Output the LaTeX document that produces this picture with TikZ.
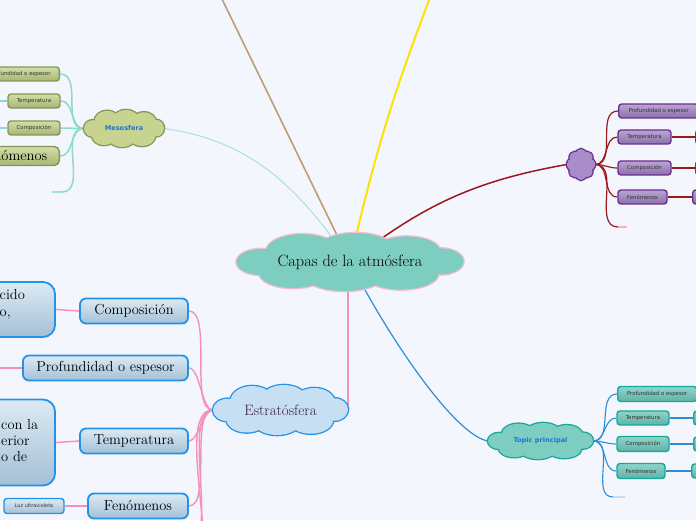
\documentclass[tikz,border=0pt]{standalone}
\usepackage{fontspec}
\newfontfamily\dejavu{DejaVu Sans}
\usetikzlibrary{backgrounds}
\definecolor{fondo}{HTML}{F3F6FD}
\definecolor{centro}{HTML}{7ECDC1}
\definecolor{centroborde}{HTML}{F6BDD0}
\definecolor{marron}{HTML}{BF9D74}
\definecolor{amarillo}{HTML}{FFE203}
\definecolor{mesolinea}{HTML}{A3DEDA}
\definecolor{rojo}{HTML}{9A1A1A}
\definecolor{rosa}{HTML}{F490B9}
\definecolor{azul}{HTML}{2F8CD8}
\definecolor{mesofondo}{HTML}{C6D490}
\definecolor{mesoborde}{HTML}{829757}
\definecolor{mesorama}{HTML}{8ED9CE}
\definecolor{verdearriba}{HTML}{D3DEA6}
\definecolor{verdeabajo}{HTML}{A7B675}
\definecolor{morado}{HTML}{A98DC9}
\definecolor{moradoborde}{HTML}{6D2C94}
\definecolor{moradoarriba}{HTML}{B9A5D2}
\definecolor{moradoabajo}{HTML}{8B70AC}
\definecolor{topicborde}{HTML}{13A89C}
\definecolor{tealarriba}{HTML}{8FD5CA}
\definecolor{tealabajo}{HTML}{5FB2A6}
\definecolor{estfondo}{HTML}{C7DFF2}
\definecolor{estborde}{HTML}{2293E6}
\definecolor{esttexto}{HTML}{3D1A4E}
\definecolor{estarriba}{HTML}{DCEAF4}
\definecolor{estabajo}{HTML}{A4C0D6}
\definecolor{titulo}{HTML}{1F73D8}
% puffs of a cloud, in units of its half width and half height
\newcommand\nubelista{-0.78/0/0.22/0.45, -0.42/0.36/0.32/0.6, 0.05/0.42/0.34/0.58, 0.5/0.33/0.3/0.55, 0.8/0.02/0.2/0.45, 0.45/-0.4/0.33/0.55, -0.05/-0.45/0.35/0.55, -0.5/-0.38/0.3/0.52, 0/0/0.8/0.6}
\newcommand\florlista{0/0/0.55/0.55, 0.62/0/0.38/0.38, 0.44/0.44/0.38/0.38, 0/0.62/0.38/0.38, -0.44/0.44/0.38/0.38, -0.62/0/0.38/0.38, -0.44/-0.44/0.38/0.38, 0/-0.62/0.38/0.38, 0.44/-0.44/0.38/0.38}
\tikzset{
  pics/nube/.style 2 args={code={
    \foreach \px/\py/\rx/\ry in \nubelista
      \draw[#2, line width=2.6pt] (\px,\py) ellipse [x radius=\rx, y radius=\ry];
    \foreach \px/\py/\rx/\ry in \nubelista
      \fill[#1] (\px,\py) ellipse [x radius=\rx, y radius=\ry];
  }},
  pics/flor/.style 2 args={code={
    \foreach \px/\py/\rx/\ry in \florlista
      \draw[#2, line width=2.6pt] (\px,\py) ellipse [x radius=\rx, y radius=\ry];
    \foreach \px/\py/\rx/\ry in \florlista
      \fill[#1] (\px,\py) ellipse [x radius=\rx, y radius=\ry];
  }}
}

\begin{document}
\begin{tikzpicture}[x=1pt,y=1pt,
  serif/.style={font=\fontsize{14.5}{17}\selectfont, text=black},
  tiny/.style={font=\dejavu\fontsize{5.4}{6}\selectfont, text=black!80},
  titulito/.style={font=\dejavu\bfseries\fontsize{6.6}{8}\selectfont, text=titulo},
  sbox/.style={serif, rounded corners=6pt, draw=estborde, line width=1.8pt, top color=estarriba, bottom color=estabajo, minimum height=25pt, inner sep=0pt},
  gbox/.style={tiny, rounded corners=3pt, draw=mesoborde, line width=1.4pt, top color=verdearriba, bottom color=verdeabajo, minimum height=14pt, inner sep=0pt},
  pbox/.style={tiny, rounded corners=3pt, draw=moradoborde, line width=1.4pt, top color=moradoarriba, bottom color=moradoabajo, minimum height=14pt, inner sep=0pt},
  tbox/.style={tiny, rounded corners=3pt, draw=topicborde, line width=1.4pt, top color=tealarriba, bottom color=tealabajo, minimum height=14pt, inner sep=0pt},
  mrama/.style={mesorama, line width=1.5pt},
  prama/.style={rojo, line width=1.2pt},
  trama/.style={azul, line width=1.1pt},
  erama/.style={rosa, line width=1.4pt}]
\useasboundingbox (0,0) rectangle (696,520);

% clouds (text only, the puffs are drawn below)
\node[minimum width=227, minimum height=58, inner sep=0pt, font=\fontsize{16.3}{19}\selectfont] (cen) at (350,258) {Capas de la atmósfera};
\node[minimum width=80, minimum height=37, inner sep=0pt, titulito] (meso) at (124,391.5) {Mesosfera};
\node[minimum width=28, minimum height=31, inner sep=0pt] (mor) at (581,355.5) {};
\node[minimum width=105, minimum height=36, inner sep=0pt, titulito] (topic) at (540.5,79) {Topic principal};
\node[minimum width=135, minimum height=50, inner sep=0pt, font=\fontsize{15}{18}\selectfont, text=esttexto] (estr) at (280.5,110) {Estratósfera};

% Mesosfera
\node[gbox, anchor=east, minimum width=78] (mprof) at (60,446) {Profundidad o espesor};
\node[gbox, minimum width=52] (mtemp) at (34,419) {Temperatura};
\node[gbox, minimum width=52] (mcomp) at (34,392) {Composición};
\node[gbox, serif, anchor=east, minimum height=19, inner xsep=12pt, rounded corners=5pt] (mfen) at (60,364) {Fenómenos};
\coordinate (mstub) at (62,328);
\coordinate (mstubend) at (52,328);
\coordinate (mtempizq) at (-5,419);
\coordinate (mcompizq) at (-5,392);

% purple branch
\node[pbox, anchor=west, minimum width=80] (pprof) at (618,409) {Profundidad o espesor};
\node[pbox, minimum width=53] (ptemp) at (644.5,383) {Temperatura};
\node[pbox, minimum width=53] (pcomp) at (644.5,352) {Composición};
\node[pbox, minimum width=49] (pfen) at (642.5,323) {Fenómenos};
\node[pbox, anchor=west, minimum width=30] (ptemp2) at (695,383) {};
\node[pbox, anchor=west, minimum width=30] (pcomp2) at (695,352) {};
\node[pbox, anchor=west, minimum width=30] (pfen2) at (692,323) {};
\coordinate (pstub) at (618,293);
\coordinate (pstubend) at (627,293);

% Topic principal
\node[tbox, anchor=west, minimum width=79, minimum height=15] (tprof) at (617,126) {Profundidad o espesor};
\node[tbox, minimum width=52] (ttemp) at (643,102) {Temperatura};
\node[tbox, minimum width=52, minimum height=15] (tcomp) at (643,76) {Composición};
\node[tbox, minimum width=48, minimum height=15] (tfen) at (641,49) {Fenómenos};
\node[tbox, anchor=west, minimum width=30] (ttemp2) at (693,102) {};
\node[tbox, anchor=west, minimum width=30] (tcomp2) at (693,76) {};
\node[tbox, anchor=west, minimum width=30] (tfen2) at (691,49) {};
\coordinate (tstub) at (613,23);
\coordinate (tstubend) at (625,23);

% Estratosfera
\node[sbox, minimum width=108] (scomp) at (134,209) {Composición};
\node[sbox, minimum width=165] (sprof) at (105.5,152) {Profundidad o espesor};
\node[sbox, minimum width=108] (stemp) at (134,79) {Temperatura};
\node[sbox, minimum width=100] (sfen) at (138,14) {Fenómenos};
\node[sbox, tiny, font=\dejavu\fontsize{5}{6}\selectfont, minimum width=60, minimum height=15, rounded corners=3pt, line width=1.4pt] (sluz) at (34,14) {Luz ultravioleta};
\node[sbox, minimum width=80, minimum height=55, rounded corners=12pt] (sbig1) at (15,210.5) {};
\node[sbox, minimum width=80, minimum height=86, rounded corners=12pt] (sbig2) at (15,77.5) {};
\node[serif, align=left, anchor=north west, inner sep=0pt] (sbig1txt) at (-0.5,231) {cido\\o,};
\node[serif, font=\fontsize{14.5}{16}\selectfont, align=left, anchor=north west, inner sep=0pt] (sbig2txt) at (1,101) {con la\\erior\\o de};
\coordinate (sprofizq) at (-5,152);
\coordinate (sdn1) at (188,-25);
\coordinate (sdn2) at (188,-70);

\coordinate (arriba1) at (220,525);
\coordinate (arriba2) at (431,525);

\begin{pgfonlayer}{background}
\fill[fondo] (0,0) rectangle (696,520);
% main branches
\draw[marron, line width=1.6pt] (cen.center) -- (arriba1);
\draw[amarillo, line width=2pt] (cen.center) to[bend left=4] (arriba2);
\draw[mesolinea, line width=0.9pt] (cen.center) to[out=125,in=-8] (meso.east);
\draw[rojo, line width=1.5pt] (cen.center) to[out=38,in=190] (mor.west);
\draw[rosa, line width=1.5pt] (cen.center) -| (estr.east);
\draw[azul, line width=1.2pt] (cen.center) .. controls (390,180) and (455,85) .. (topic.west);
% Mesosfera
\foreach \b in {mprof,mtemp,mcomp,mfen}
  \draw[mrama] (meso.west) to[out=180,in=0] (\b.east);
\draw[mrama] (meso.west) to[out=180,in=0] (mstub);
\draw[mesolinea, line width=1.2pt] (mstub) -- (mstubend);
\draw[mrama] (mtemp.west) -- (mtempizq);
\draw[mrama] (mcomp.west) -- (mcompizq);
% purple
\foreach \b in {pprof,ptemp,pcomp,pfen}
  \draw[prama] (mor.east) to[out=0,in=180] (\b.west);
\draw[prama] (mor.east) to[out=0,in=180] (pstub);
\draw[rosa!70, line width=1.2pt] (pstub) -- (pstubend);
\draw[prama] (ptemp.east) -- (ptemp2.west);
\draw[prama] (pcomp.east) -- (pcomp2.west);
\draw[prama] (pfen.east) -- (pfen2.west);
% Topic principal
\foreach \b in {tprof,ttemp,tcomp,tfen}
  \draw[trama] (topic.east) to[out=0,in=180] (\b.west);
\draw[trama] (topic.east) to[out=0,in=180] (tstub);
\draw[azul!30, line width=1.1pt] (tstub) -- (tstubend);
\draw[trama] (ttemp.east) -- (ttemp2.west);
\draw[trama] (tcomp.east) -- (tcomp2.west);
\draw[trama] (tfen.east) -- (tfen2.west);
% Estratosfera
\foreach \b in {scomp,sprof,stemp,sfen}
  \draw[erama] (estr.west) to[out=180,in=0,looseness=0.6] (\b.east);
\draw[erama] (estr.west) to[out=180,in=0,looseness=0.6] (sdn1);
\draw[erama] (estr.west) to[out=180,in=0,looseness=0.6] (sdn2);
\draw[erama] (scomp.west) -- (sbig1.east);
\draw[erama] (sprof.west) -- (sprofizq);
\draw[erama] (stemp.west) -- (sbig2.east);
\draw[erama] (sfen.west) -- (sluz.east);
% cloud puffs
\pic[x=113.5pt, y=29pt] at (cen) {nube={centro}{centroborde}};
\pic[x=40pt, y=18.5pt] at (meso) {nube={mesofondo}{mesoborde}};
\pic[x=14pt, y=15.5pt] at (mor) {flor={morado}{moradoborde}};
\pic[x=52.5pt, y=18pt] at (topic) {nube={centro}{topicborde}};
\pic[x=67.5pt, y=25pt] at (estr) {nube={estfondo}{estborde}};
\end{pgfonlayer}
\end{tikzpicture}
\end{document}
